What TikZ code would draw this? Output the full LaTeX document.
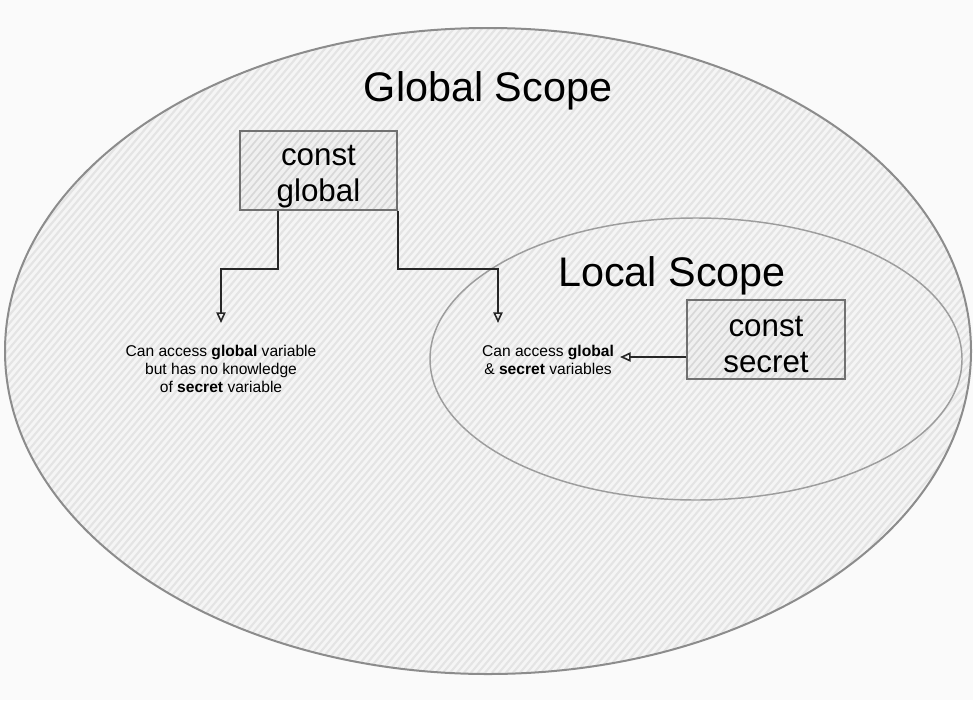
\documentclass[tikz,border=0pt]{standalone}
\usepackage{fontspec}
\setmainfont{Liberation Sans}
\usetikzlibrary{arrows.meta,calc}
\definecolor{bgc}{HTML}{FAFAFA}
\definecolor{fillc}{HTML}{F5F5F5}
\definecolor{hatchc}{HTML}{E4E4E4}
\definecolor{boxfill}{HTML}{F0F0F0}
\definecolor{boxhatch}{HTML}{D8D8D8}
\definecolor{edgec}{HTML}{8C8C8C}
\definecolor{boxedge}{HTML}{707070}
\tikzset{
  hatch/.style={draw=hatchc, line width=1.6pt},
  bhatch/.style={draw=boxhatch, line width=1.3pt},
  varbox/.style={draw=boxedge, line width=1.4pt, fill=boxfill, minimum width=118pt, minimum height=59.25pt,
    inner sep=0pt,
    path picture={\foreach \i in {-270,-263,...,110} \draw[bhatch] (\i,100) -- ++(168.6,-200);}},
  boxlabel/.style={align=center, inner sep=0pt, font=\fontsize{23.5}{27}\selectfont},
  title/.style={font=\fontsize{31}{36}\selectfont, anchor=base},
  note/.style={font=\fontsize{11.7}{13.6}\selectfont, align=center},
  conn/.style={draw=black!85, line width=1.2pt, -{Triangle[open,length=8pt,width=7pt]}},
}
\begin{document}
\begin{tikzpicture}[x=0.75pt,y=-0.75pt]
\useasboundingbox (0,0) rectangle (973,700);
\fill[bgc] (0,0) rectangle (973,700);
% global scope ellipse
\begin{scope}
  \clip (488,351) ellipse [x radius=483, y radius=323];
  \fill[fillc] (0,0) rectangle (973,700);
  \foreach \i in {-700,-693,...,980} \draw[hatch] (\i,700) -- ++(590,-700);
\end{scope}
\draw[edgec, line width=1.5pt] (488,351) ellipse [x radius=483, y radius=323];
% local scope ellipse
\draw[edgec!85, line width=1.1pt] (696,359) ellipse [x radius=266, y radius=141];

\node[title] (gs) at (488,101) {Global Scope};
\node[title] (ls) at (672,286) {Local Scope};

\node[varbox] (gbox) at (318.5,170.5) {};
\node[varbox] (sbox) at (766,339.5) {};
\node[boxlabel] (gtxt) at ($(gbox.center)+(0,6)$) {const\\global};
\node[boxlabel] (stxt) at ($(sbox.center)+(0,5)$) {const\\secret};

\node[note] (t1) at (221,369) {Can access \textbf{global} variable\\but has no knowledge\\of \textbf{secret} variable};
\node[note] (t2) at (548,360) {Can access \textbf{global}\\\& \textbf{secret} variables};

\coordinate (tip1) at (221,323);
\coordinate (tip2) at (498,323);
\coordinate (tip3) at (620,357);

\draw[conn] (gbox.south west) ++(39,0) -- ++(0,58) -| (tip1);
\draw[conn] (gbox.south east) -- ++(0,58) -| (tip2);
\draw[conn] (sbox.west |- tip3) -- (tip3);
\end{tikzpicture}
\end{document}
